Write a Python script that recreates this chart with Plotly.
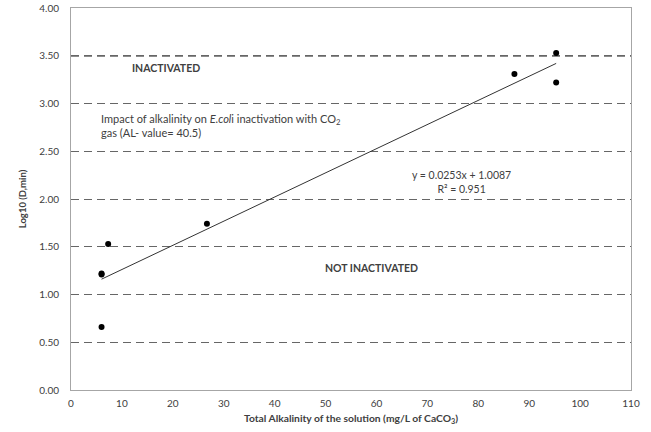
import plotly.graph_objects as go

# Data
alkalinity = [6.0, 6.0, 6.0, 7.3, 26.7, 87.1, 95.3, 95.3]
log_d = [1.22, 1.21, 0.66, 1.53, 1.74, 3.31, 3.53, 3.22]
slope = 0.0253
intercept = 1.0087
r2 = 0.951
trend_x = [6.0, 95.3]
trend_y = [slope * x + intercept for x in trend_x]

x_ticks = list(range(0, 111, 10))
y_ticks = [0.0, 0.5, 1.0, 1.5, 2.0, 2.5, 3.0, 3.5, 4.0]

font_family = "Lato, 'Open Sans', sans-serif"
txt_color = "#404040"

fig = go.Figure()
fig.add_trace(go.Scatter(x=trend_x, y=trend_y, mode="lines",
                         line=dict(color="#333333", width=1), hoverinfo="skip",
                         showlegend=False))
fig.add_trace(go.Scatter(x=alkalinity, y=log_d, mode="markers",
                         marker=dict(color="black", size=6), showlegend=False))

# darker threshold line at 3.5
fig.add_shape(type="line", xref="x", yref="y", x0=0, x1=110, y0=3.5, y1=3.5,
              line=dict(color="#1a1a1a", width=1.3, dash="8px,5px"), layer="below")

fig.add_annotation(x=18.6, y=3.37, text="<b>INACTIVATED</b>", showarrow=False,
                   font=dict(size=10.5, color=txt_color, family=font_family))
fig.add_annotation(x=5.5, y=2.77, xanchor="left", align="left",
                   text="Impact of alkalinity on <i>E.col</i>i inactivation with CO<sub>2</sub><br>gas (AL- value= 40.5)",
                   showarrow=False, font=dict(size=11, color=txt_color, family=font_family))
fig.add_annotation(x=76.8, y=2.18, align="center",
                   text="y = 0.0253x + 1.0087<br>R² = " + str(r2), showarrow=False,
                   font=dict(size=10.5, color=txt_color, family=font_family))
fig.add_annotation(x=59.1, y=1.28, text="<b>NOT INACTIVATED</b>", showarrow=False,
                   font=dict(size=10.5, color=txt_color, family=font_family))

fig.update_layout(
    width=651, height=432,
    margin=dict(l=71, r=20, t=8, b=42),
    paper_bgcolor="white", plot_bgcolor="white",
    font=dict(family=font_family, size=10, color=txt_color),
    xaxis=dict(range=[0, 110], tickvals=x_ticks, ticktext=[str(t) for t in x_ticks],
               showgrid=False, zeroline=False, showline=True, mirror=True,
               linecolor="#a6a6a6", linewidth=1, ticks="", automargin=False,
               ticklabelstandoff=4,
               tickfont=dict(size=10, color=txt_color),
               title=dict(text="<b>Total Alkalinity of the solution (mg/L of CaCO<sub>3</sub>)</b>",
                          font=dict(size=10.3, color=txt_color), standoff=6)),
    yaxis=dict(range=[0, 4.0], tickvals=y_ticks, ticktext=[f"{t:.2f}" for t in y_ticks],
               showgrid=True, gridcolor="#666666", gridwidth=1, griddash="8px,5px",
               zeroline=False, showline=True, mirror=True,
               linecolor="#a6a6a6", linewidth=1, ticks="", automargin=False,
               ticklabelstandoff=9,
               tickfont=dict(size=10, color=txt_color),
               title=dict(text="<b>Log10 (D,min)</b>", font=dict(size=9.5, color=txt_color),
                          standoff=10)),
)

fig.write_html("out.html", config={"displayModeBar": False},
               post_script="document.body.style.margin='0';")
